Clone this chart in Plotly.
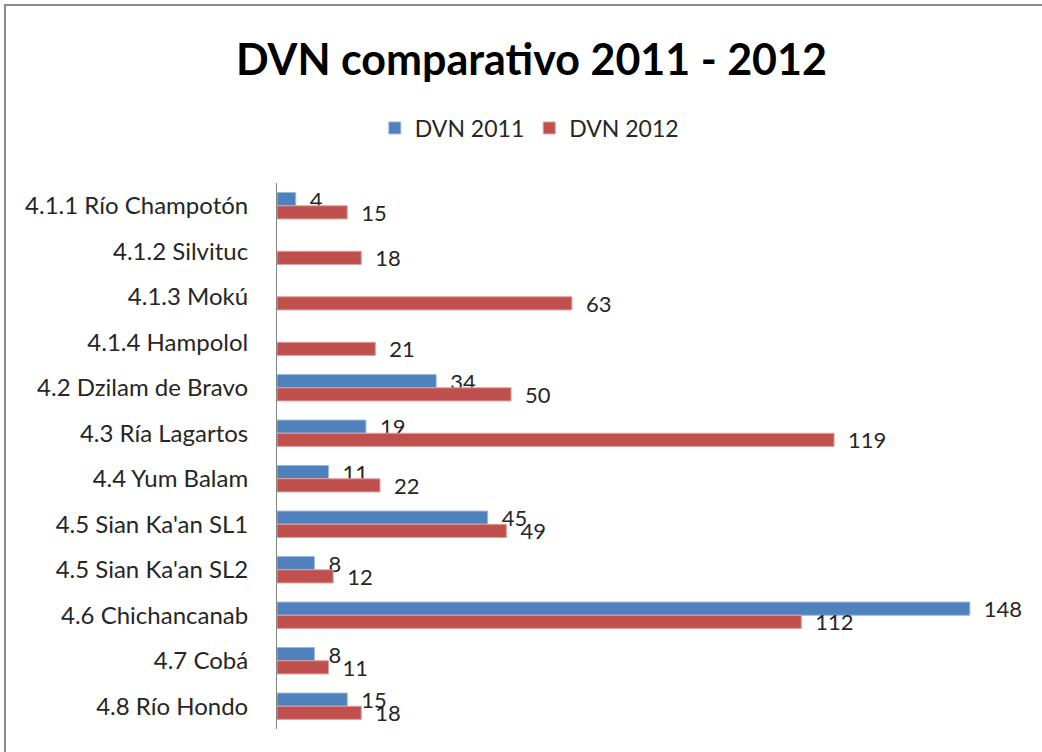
import plotly.graph_objects as go

categories = ["4.1.1 Río Champotón", "4.1.2 Silvituc", "4.1.3 Mokú", "4.1.4 Hampolol",
              "4.2 Dzilam de Bravo", "4.3 Ría Lagartos", "4.4 Yum Balam",
              "4.5 Sian Ka'an SL1", "4.5 Sian Ka'an SL2", "4.6 Chichancanab",
              "4.7 Cobá", "4.8 Río Hondo"]
dvn_2011 = [4, None, None, None, 34, 19, 11, 45, 8, 148, 8, 15]
dvn_2012 = [15, 18, 63, 21, 50, 119, 22, 49, 12, 112, 11, 18]

FONT = "Lato"
W, H = 1042, 752

def labels(vals):
    return ["" if v is None else "\u2002" + str(v) for v in vals]

fig = go.Figure()
fig.add_trace(go.Bar(
    y=categories, x=dvn_2011, name="DVN 2011", orientation="h",
    marker=dict(color="#4F81BD", line=dict(color="#9BB8DD", width=1)),
    text=labels(dvn_2011), textposition="outside", cliponaxis=False,
    constraintext="none",
    textfont=dict(family=FONT, size=22, color="#262626"),
))
fig.add_trace(go.Bar(
    y=categories, x=dvn_2012, name="DVN 2012", orientation="h",
    marker=dict(color="#C0504D", line=dict(color="#E0A09E", width=1)),
    text=labels(dvn_2012), textposition="outside", cliponaxis=False,
    constraintext="none",
    textfont=dict(family=FONT, size=22, color="#262626"),
))

ml, mr, mt, mb = 277, 16, 183, 23
pw = W - ml - mr
ph = H - mt - mb

fig.update_layout(
    width=W, height=H,
    margin=dict(l=ml, r=mr, t=mt, b=mb),
    paper_bgcolor="white", plot_bgcolor="white",
    barmode="group", bargap=0.42, bargroupgap=0.0,
    title=dict(text="<b>DVN comparativo 2011 - 2012</b>", xref="container", x=0.51,
               xanchor="center", yref="container", y=1 - 60 / H, yanchor="middle",
               font=dict(family=FONT, size=43, color="black")),
    legend=dict(orientation="h", xref="container", yref="container",
                x=0.508, xanchor="center", y=1 - 128 / H, yanchor="middle",
                font=dict(family=FONT, size=23, color="#262626"),
                itemwidth=30, tracegroupgap=0),
    font=dict(family=FONT, color="#262626"),
    xaxis=dict(range=[0, 160], showgrid=False, zeroline=False, showticklabels=False,
               showline=False, ticks=""),
    yaxis=dict(autorange="reversed", showgrid=False, showline=True, linecolor="#868686",
               linewidth=1, ticks="", ticklabelstandoff=23,
               tickfont=dict(family=FONT, size=24, color="#262626")),
    shapes=[
        dict(type="line", xref="paper", yref="paper",
             x0=(4 - ml) / pw, x1=(W - ml) / pw, y0=(H - mb - 5) / ph, y1=(H - mb - 5) / ph,
             line=dict(color="#8C8C8C", width=2)),
        dict(type="line", xref="paper", yref="paper",
             x0=(5 - ml) / pw, x1=(5 - ml) / pw, y0=(H - mb - 5) / ph, y1=(-mb - 5) / ph,
             line=dict(color="#8C8C8C", width=2)),
    ],
)

fig.write_html("out.html")
